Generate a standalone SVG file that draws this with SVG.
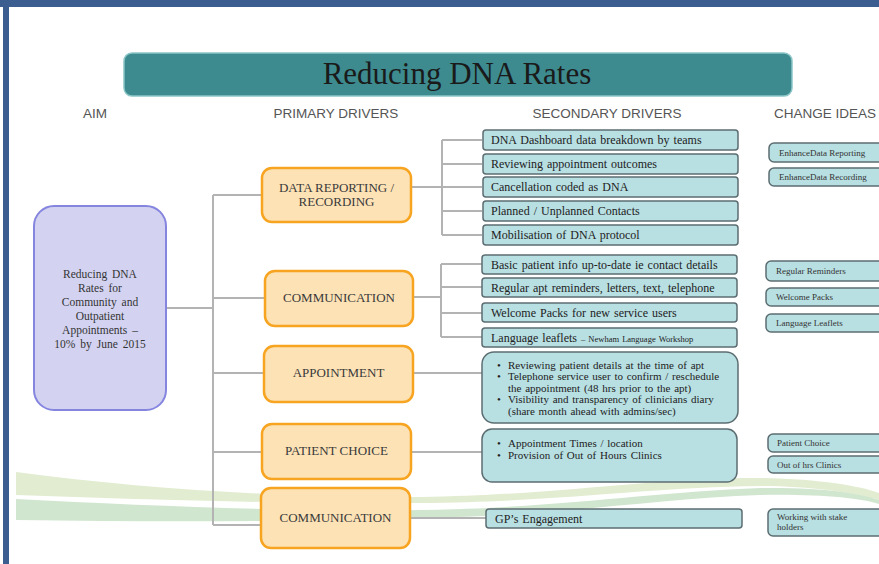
<svg xmlns="http://www.w3.org/2000/svg" width="879" height="564" viewBox="0 0 879 564">
  <style>
    .hdr { font-family: "Liberation Sans", Arial, sans-serif; font-size: 13.5px; fill: #555; text-anchor: middle; }
    .title { font-family: "Liberation Serif", "Times New Roman", serif; font-size: 31px; fill: #1a1a1a; text-anchor: middle; }
    .aim { fill: #d3d3f1; stroke: #8585e0; stroke-width: 2; }
    .aimtxt { font-family: "Liberation Serif", "Times New Roman", serif; font-size: 11.5px; fill: #333; text-anchor: middle; word-spacing: 2px; }
    .prim { fill: #fde2b6; stroke: #f7a421; stroke-width: 2.5; }
    .primtxt { font-family: "Liberation Serif", "Times New Roman", serif; font-size: 13px; fill: #3a3a3a; text-anchor: middle; }
    .sec { fill: #b8dfe2; stroke: #5c6d71; stroke-width: 1.5; }
    .sectxt { font-family: "Liberation Serif", "Times New Roman", serif; font-size: 12px; fill: #222; word-spacing: 1px; }
    .bul { font-family: "Liberation Serif", "Times New Roman", serif; font-size: 11px; fill: #222; word-spacing: 1px; }
    .idea { fill: #b8dfe2; stroke: #5c6d71; stroke-width: 1.5; }
    .ideatxt { font-family: "Liberation Serif", "Times New Roman", serif; font-size: 9px; fill: #333; }
    .conn { fill: none; stroke: #b3b3b3; stroke-width: 2; }
  </style>

  <!-- page frame -->
  <rect x="0" y="0" width="879" height="564" fill="#ffffff"/>
  <rect x="0" y="0" width="879" height="7" fill="#3c5d8f"/>
  <rect x="3" y="0" width="6" height="564" fill="#3c5d8f"/>

  <!-- decorative green swoosh -->
  <path d="M16,472 C150,490 300,498 420,497 C560,495 650,478 760,478 C820,479 860,486 879,493 L879,500 C850,492 810,486 760,486 C650,487 560,502 420,503 C300,504 150,500 16,495 Z" fill="#e2ecd0"/>
  <path d="M16,499 C150,506 300,512 420,510 C560,508 650,492 760,488 C820,487 860,493 879,500 L879,504 C860,498 820,494 760,495 C650,499 560,516 420,518 C300,522 150,522 16,520 Z" fill="#d1e6cf"/>

  <!-- title banner -->
  <g id="title">
    <rect x="124" y="53" width="668" height="43" rx="8" fill="#3d8b8f" stroke="#8cc6c7" stroke-width="1.5"/>
    <text class="title" x="457" y="84">Reducing DNA Rates</text>
  </g>

  <!-- column headings -->
  <g id="headings">
    <text class="hdr" x="95" y="118">AIM</text>
    <text class="hdr" x="336" y="118">PRIMARY DRIVERS</text>
    <text class="hdr" x="607" y="118">SECONDARY DRIVERS</text>
    <text class="hdr" x="825" y="118">CHANGE IDEAS</text>
  </g>

  <!-- connectors -->
  <g id="connectors" class="conn">
    <path d="M167,308 H213"/>
    <path d="M213,195 V525"/>
    <path d="M213,195 H262 M213,298 H265 M213,373 H264 M213,452 H262 M213,525 H261"/>
    <path d="M411,187 H442 M442,140 V235 M442,140 H482 M442,164 H482 M442,187 H482 M442,211 H482 M442,235 H482"/>
    <path d="M413,297 H441 M441,264 V337 M441,264 H482 M441,287 H482 M441,313 H482 M441,337 H482"/>
    <path d="M413,373 H482"/>
    <path d="M411,452 H482"/>
    <path d="M410,518 H486"/>
  </g>

  <!-- aim -->
  <g id="aim">
    <rect class="aim" x="34" y="206" width="132" height="204" rx="20"/>
    <text class="aimtxt" x="100" y="278">Reducing DNA</text>
    <text class="aimtxt" x="100" y="292">Rates for</text>
    <text class="aimtxt" x="100" y="306">Community and</text>
    <text class="aimtxt" x="100" y="320">Outpatient</text>
    <text class="aimtxt" x="100" y="334">Appointments –</text>
    <text class="aimtxt" x="100" y="348">10% by June 2015</text>
  </g>

  <!-- primary drivers -->
  <g id="p-data">
    <rect class="prim" x="262" y="168" width="149" height="54" rx="10"/>
    <text class="primtxt" x="336.5" y="192">DATA REPORTING /</text>
    <text class="primtxt" x="336.5" y="206">RECORDING</text>
  </g>
  <g id="p-comm">
    <rect class="prim" x="265" y="271" width="148" height="55" rx="10"/>
    <text class="primtxt" x="339" y="302">COMMUNICATION</text>
  </g>
  <g id="p-appt">
    <rect class="prim" x="264" y="346" width="149" height="56" rx="10"/>
    <text class="primtxt" x="338.5" y="377">APPOINTMENT</text>
  </g>
  <g id="p-choice">
    <rect class="prim" x="262" y="424" width="149" height="55" rx="10"/>
    <text class="primtxt" x="336.5" y="455">PATIENT CHOICE</text>
  </g>
  <g id="p-comm2">
    <rect class="prim" x="261" y="488" width="149" height="60" rx="10"/>
    <text class="primtxt" x="335.5" y="522">COMMUNICATION</text>
  </g>

  <!-- secondary drivers -->
  <g id="s-dashboard">
    <rect class="sec" x="483" y="130" width="255" height="20" rx="3"/>
    <text class="sectxt" x="491" y="144">DNA Dashboard data breakdown by teams</text>
  </g>
  <g id="s-outcomes">
    <rect class="sec" x="483" y="154" width="255" height="20" rx="3"/>
    <text class="sectxt" x="491" y="168">Reviewing appointment outcomes</text>
  </g>
  <g id="s-cancel">
    <rect class="sec" x="483" y="177" width="255" height="20" rx="3"/>
    <text class="sectxt" x="491" y="191">Cancellation coded as DNA</text>
  </g>
  <g id="s-planned">
    <rect class="sec" x="483" y="201" width="255" height="20" rx="3"/>
    <text class="sectxt" x="491" y="215">Planned / Unplanned Contacts</text>
  </g>
  <g id="s-mobilise">
    <rect class="sec" x="483" y="225" width="255" height="20" rx="3"/>
    <text class="sectxt" x="491" y="239">Mobilisation  of DNA protocol</text>
  </g>
  <g id="s-basic">
    <rect class="sec" x="482" y="255" width="255" height="19" rx="3"/>
    <text class="sectxt" x="491" y="268.5">Basic patient info up-to-date ie contact details</text>
  </g>
  <g id="s-reminders">
    <rect class="sec" x="482" y="278" width="255" height="19" rx="3"/>
    <text class="sectxt" x="491" y="291.5">Regular apt reminders, letters, text, telephone</text>
  </g>
  <g id="s-welcome">
    <rect class="sec" x="482" y="303" width="255" height="19" rx="3"/>
    <text class="sectxt" x="491" y="316.5">Welcome Packs for new service users</text>
  </g>
  <g id="s-language">
    <rect class="sec" x="482" y="328" width="255" height="19" rx="3"/>
    <text class="sectxt" x="491" y="341.5">Language leaflets <tspan font-size="8.5px">– Newham Language  Workshop</tspan></text>
  </g>
  <g id="s-appt">
    <rect class="sec" x="482" y="352" width="256" height="71" rx="12"/>
    <text class="bul" x="497" y="368.5">•</text>
    <text class="bul" x="508" y="368.5">Reviewing patient details at the time of apt</text>
    <text class="bul" x="497" y="380">•</text>
    <text class="bul" x="508" y="380">Telephone service user to confirm  / reschedule</text>
    <text class="bul" x="508" y="391.5">the appointment (48 hrs prior to the apt)</text>
    <text class="bul" x="497" y="403">•</text>
    <text class="bul" x="508" y="403">Visibility  and transparency of clinicians  diary</text>
    <text class="bul" x="508" y="414.5">(share month ahead with admins/sec)</text>
  </g>
  <g id="s-choice">
    <rect class="sec" x="482" y="429" width="255" height="53" rx="10"/>
    <text class="bul" x="497" y="447">•</text>
    <text class="bul" x="508" y="447">Appointment Times / location</text>
    <text class="bul" x="497" y="459">•</text>
    <text class="bul" x="508" y="459">Provision of Out of Hours Clinics</text>
  </g>
  <g id="s-gp">
    <rect class="sec" x="486" y="509" width="256" height="19" rx="3"/>
    <text class="sectxt" x="495" y="522.5">GP’s Engagement</text>
  </g>

  <!-- change ideas -->
  <g id="c-reporting">
    <rect class="idea" x="769" y="143" width="120" height="19" rx="5"/>
    <text class="ideatxt" x="779" y="155.5">EnhanceData Reporting</text>
  </g>
  <g id="c-recording">
    <rect class="idea" x="769" y="168" width="120" height="18" rx="5"/>
    <text class="ideatxt" x="779" y="180">EnhanceData Recording</text>
  </g>
  <g id="c-reminders">
    <rect class="idea" x="766" y="261" width="120" height="20" rx="5"/>
    <text class="ideatxt" x="776" y="274">Regular Reminders</text>
  </g>
  <g id="c-welcome">
    <rect class="idea" x="766" y="288" width="120" height="18" rx="5"/>
    <text class="ideatxt" x="776" y="300">Welcome Packs</text>
  </g>
  <g id="c-leaflets">
    <rect class="idea" x="766" y="314" width="120" height="18" rx="5"/>
    <text class="ideatxt" x="776" y="326">Language Leaflets</text>
  </g>
  <g id="c-choice">
    <rect class="idea" x="768" y="434" width="120" height="18" rx="5"/>
    <text class="ideatxt" x="777" y="446">Patient Choice</text>
  </g>
  <g id="c-ooh">
    <rect class="idea" x="768" y="456" width="120" height="17" rx="5"/>
    <text class="ideatxt" x="777" y="467.5">Out of hrs Clinics</text>
  </g>
  <g id="c-stake">
    <rect class="idea" x="768" y="509" width="120" height="27" rx="5"/>
    <text class="ideatxt" x="777" y="520">Working with stake</text>
    <text class="ideatxt" x="777" y="530">holders</text>
  </g>
</svg>
